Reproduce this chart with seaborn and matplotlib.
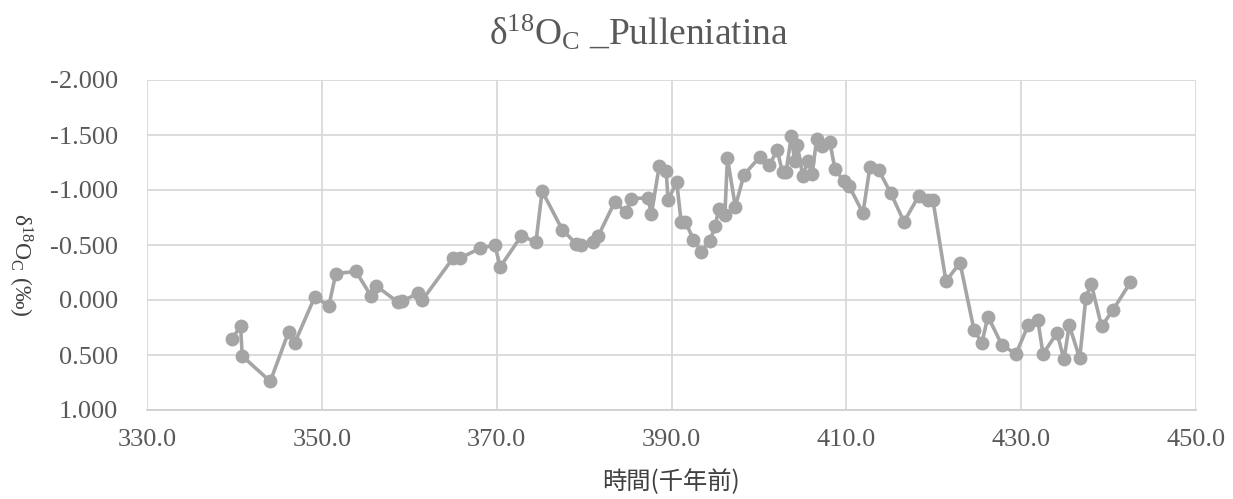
import matplotlib
matplotlib.use("Agg")
import matplotlib.pyplot as plt
import seaborn as sns
import pandas as pd
from matplotlib.ticker import FormatStrFormatter

age_kyr = [339.7, 340.7, 340.9, 344.1, 346.2, 346.9, 349.2, 350.8, 351.6, 353.9,
           355.6, 356.2, 358.7, 359.2, 361.0, 361.5, 365.0, 365.8, 368.1, 369.8,
           370.4, 372.8, 374.5, 375.2, 377.5, 379.1, 379.7, 381.0, 381.6, 383.5,
           384.8, 385.4, 387.3, 387.7, 388.6, 389.4, 389.6, 390.6, 391.1, 391.6,
           392.5, 393.4, 394.4, 395.0, 395.4, 396.1, 396.4, 397.3, 398.3, 400.1,
           401.2, 402.1, 402.7, 403.1, 403.7, 404.1, 404.4, 405.0, 405.6, 406.1,
           406.6, 407.2, 408.1, 408.7, 409.7, 410.3, 411.9, 412.7, 413.7, 415.1,
           416.6, 418.3, 419.3, 419.9, 421.4, 423.0, 424.6, 425.5, 426.2, 427.8,
           429.4, 430.8, 431.9, 432.5, 434.1, 434.9, 435.5, 436.7, 437.4, 438.0,
           439.2, 440.5, 442.5]
d18o = [0.355, 0.24, 0.51, 0.74, 0.29, 0.39, -0.03, 0.055, -0.24, -0.26,
        -0.04, -0.13, 0.02, 0.01, -0.06, 0.00, -0.38, -0.38, -0.47, -0.50,
        -0.30, -0.58, -0.53, -0.99, -0.64, -0.51, -0.50, -0.53, -0.58, -0.89,
        -0.80, -0.92, -0.93, -0.78, -1.22, -1.17, -0.91, -1.07, -0.71, -0.71,
        -0.55, -0.44, -0.54, -0.67, -0.83, -0.77, -1.29, -0.85, -1.14, -1.30,
        -1.23, -1.36, -1.16, -1.16, -1.49, -1.26, -1.41, -1.13, -1.26, -1.15,
        -1.46, -1.40, -1.44, -1.19, -1.08, -1.04, -0.79, -1.21, -1.18, -0.97,
        -0.71, -0.95, -0.91, -0.91, -0.17, -0.34, 0.27, 0.39, 0.15, 0.41,
        0.49, 0.23, 0.18, 0.49, 0.30, 0.54, 0.23, 0.53, -0.02, -0.15,
        0.24, 0.09, -0.16]

x_ticks = [330, 350, 370, 390, 410, 430, 450]
y_ticks = [-2.0, -1.5, -1.0, -0.5, 0.0, 0.5, 1.0]

title_text = "$\\mathregular{δ^{18}O_{C}}$ _Pulleniatina"
xlabel_text = "時間(千年前)"
ylabel_text = "$\\mathregular{δ^{18}O_{C}}$ (‰)"

sns.set_theme(style="white")
plt.rcParams['font.family'] = ['Liberation Serif', 'DejaVu Serif']
plt.rcParams['mathtext.fontset'] = 'custom'
plt.rcParams['mathtext.rm'] = 'Liberation Serif'

df = pd.DataFrame({"age": age_kyr, "d18o": d18o})

fig = plt.figure(figsize=(12.33, 4.99), dpi=100)
ax = fig.add_axes([147/1233, 1 - 410/499, (1196-147)/1233, (410-80)/499])

sns.lineplot(data=df, x="age", y="d18o", ax=ax, color="#A5A5A5", linewidth=2.6,
             marker="o", markersize=10, markeredgewidth=0, sort=False)

ax.set_xlim(330, 450)
ax.set_ylim(1.0, -2.0)
ax.set_xticks(x_ticks)
ax.set_yticks(y_ticks)
ax.xaxis.set_major_formatter(FormatStrFormatter('%.1f'))
ax.yaxis.set_major_formatter(FormatStrFormatter('%.3f'))
ax.grid(True, color="#D9D9D9", linewidth=1.3)
ax.set_axisbelow(True)
for s in ['top', 'right', 'left']:
    ax.spines[s].set_visible(False)
ax.spines['bottom'].set_color('#D0D0D0')
ax.spines['bottom'].set_linewidth(1.3)
ax.tick_params(axis='both', length=0, labelsize=19, labelcolor='#595959')
ax.tick_params(axis='y', pad=21)
ax.tick_params(axis='x', pad=14)

ax.set_xlabel(xlabel_text, fontsize=17.5, color='#404040',
              family=['Noto Sans CJK JP', 'DejaVu Sans'], labelpad=13)
ax.set_ylabel("")
fig.text(20/1233, 1 - 265/499, ylabel_text, fontsize=17, color='#404040',
         rotation=270, ha='center', va='center')

fig.text(639/1233, 1 - 33/499, title_text, ha='center', va='center',
         fontsize=27, color='#595959')

fig.savefig("out.png", dpi=100)
